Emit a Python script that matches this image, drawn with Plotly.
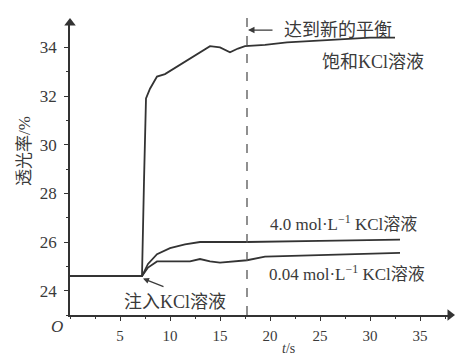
import plotly.graph_objects as go

# data
t_sat = [0, 7.2, 7.4, 7.6, 8.0, 8.7, 9.5, 10.5, 11.5, 12.5, 13.3, 14.0, 15.0, 16.0, 16.8, 17.5, 19.5, 21.7, 25.7, 30.0, 32.5]
y_sat = [24.6, 24.6, 28.5, 31.9, 32.3, 32.8, 32.9, 33.15, 33.4, 33.65, 33.85, 34.05, 34.0, 33.8, 33.95, 34.05, 34.1, 34.2, 34.3, 34.4, 34.4]

t_40 = [0, 7.2, 7.8, 8.7, 10.0, 11.5, 13.0, 17.7, 25.0, 33.0]
y_40 = [24.6, 24.6, 25.1, 25.5, 25.75, 25.9, 26.0, 26.0, 26.05, 26.1]

t_004 = [0, 7.2, 7.8, 8.7, 10.0, 12.0, 13.0, 14.0, 15.0, 17.7, 19.5, 25.0, 33.0]
y_004 = [24.6, 24.6, 24.95, 25.2, 25.2, 25.2, 25.3, 25.2, 25.15, 25.25, 25.4, 25.45, 25.55]

x_ticks = [5, 10, 15, 20, 25, 30, 35]
y_ticks = [24, 26, 28, 30, 32, 34]
x_range = [0, 38]
y_range = [23, 35]
t_equilibrium = 17.7

LINE = "#333333"
TXT = "#3a3a3a"
SERIF = "Liberation Serif"
CJK = "Liberation Serif, Noto Sans CJK SC"

fig = go.Figure()
for tx, ty in [(t_sat, y_sat), (t_40, y_40), (t_004, y_004)]:
    fig.add_trace(go.Scatter(x=tx, y=ty, mode="lines",
                             line=dict(color=LINE, width=1.8),
                             showlegend=False, hoverinfo="skip"))

# axis arrowheads at the ends of the axes
fig.add_trace(go.Scatter(x=[x_range[0], x_range[1]], y=[y_range[1], y_range[0]], mode="markers",
                         marker=dict(symbol=["triangle-up", "triangle-right"], size=10, color=LINE,
                                     line=dict(width=0)),
                         cliponaxis=False, showlegend=False, hoverinfo="skip"))

# equilibrium dashed line
fig.add_shape(type="line", x0=t_equilibrium, x1=t_equilibrium, y0=0, y1=1.027,
              xref="x", yref="paper", line=dict(color="#555555", width=1.3, dash="dash"))

ann = []
# axis labels
ann.append(dict(x=-0.012, y=-0.04, xref="paper", yref="paper", text="<i>O</i>", showarrow=False,
                xanchor="right", yanchor="middle", font=dict(family=SERIF, size=17, color=TXT)))
ann.append(dict(x=0.552, y=-0.147, xref="paper", yref="paper", text="<i>t</i>/s", showarrow=False,
                xanchor="left", yanchor="bottom", font=dict(family=SERIF, size=14, color=TXT)))
ann.append(dict(x=-0.15, y=0.56, xref="paper", yref="paper", text="透光率/%", textangle=-90,
                showarrow=False, font=dict(family=CJK, size=17, color=TXT)))
# curve labels
ann.append(dict(x=21.2, y=34.71, xref="x", yref="y", text="达到新的平衡", showarrow=False,
                xanchor="left", font=dict(family=CJK, size=18, color=TXT)))
ann.append(dict(x=t_equilibrium + 0.1, y=34.71, ax=20.4, ay=34.71, xref="x", yref="y",
                axref="x", ayref="y", showarrow=True, arrowhead=2, arrowsize=1,
                arrowwidth=1.3, arrowcolor=TXT, text=""))
ann.append(dict(x=25.0, y=33.4, xref="x", yref="y", text="饱和KCl溶液", showarrow=False,
                xanchor="left", font=dict(family=CJK, size=18, color=TXT)))
ann.append(dict(x=19.8, y=26.77, xref="x", yref="y", text="4.0 mol·L<sup>−1</sup> KCl溶液",
                showarrow=False, xanchor="left", font=dict(family=CJK, size=17, color=TXT)))
ann.append(dict(x=19.7, y=24.71, xref="x", yref="y", text="0.04 mol·L<sup>−1</sup> KCl溶液",
                showarrow=False, xanchor="left", font=dict(family=CJK, size=17, color=TXT)))
ann.append(dict(x=5.2, y=23.52, xref="x", yref="y", text="注入KCl溶液", showarrow=False,
                xanchor="left", font=dict(family=CJK, size=18, color=TXT)))
ann.append(dict(x=7.3, y=24.5, ax=9.5, ay=24.14, xref="x", yref="y", axref="x", ayref="y",
                showarrow=True, arrowhead=2, arrowsize=1, arrowwidth=1.2, arrowcolor=TXT, text=""))

fig.update_layout(
    width=455, height=358,
    margin=dict(l=70, r=5, t=23, b=43),
    paper_bgcolor="white", plot_bgcolor="white",
    annotations=ann,
    xaxis=dict(range=x_range, showgrid=False, zeroline=False, showline=True,
               linecolor=LINE, linewidth=1.6,
               tickvals=x_ticks, ticks="outside", ticklen=4, tickcolor=LINE, tickwidth=1.3,
               minor=dict(dtick=2.5, tick0=0, ticks="outside", ticklen=2, tickcolor=LINE),
               ticklabelstandoff=2,
               tickfont=dict(family=SERIF, size=15, color=TXT)),
    yaxis=dict(range=y_range, showgrid=False, zeroline=False, showline=True,
               linecolor=LINE, linewidth=1.6,
               tickvals=y_ticks, ticks="outside", ticklen=4, tickcolor=LINE, tickwidth=1.3,
               minor=dict(dtick=1, tick0=23, ticks="outside", ticklen=2, tickcolor=LINE),
               ticklabelstandoff=4,
               tickfont=dict(family=SERIF, size=17, color=TXT)),
)

fig.write_html("out.html", config={"displayModeBar": False},
               post_script="document.body.style.margin='0';")
